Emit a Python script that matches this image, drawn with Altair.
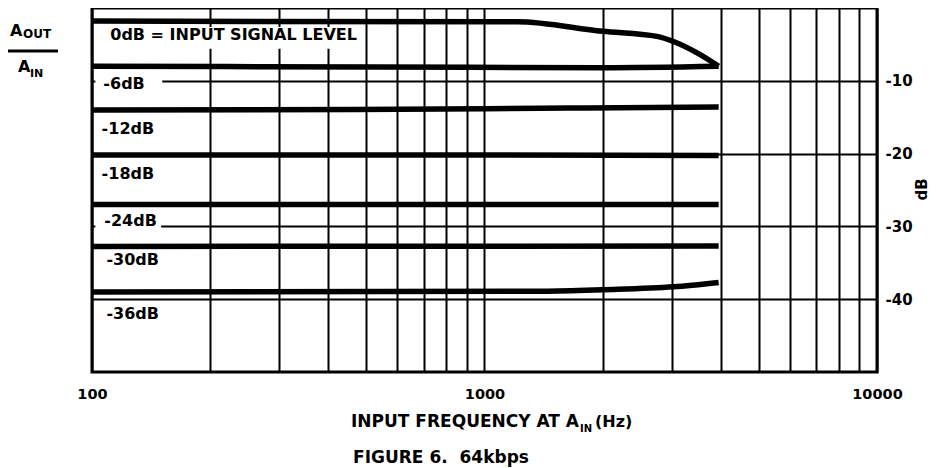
import altair as alt
import pandas as pd

# ---------------- data ----------------
series_names = ["0dB", "-6dB", "-12dB", "-18dB", "-24dB", "-30dB", "-36dB"]

f_0db = [100, 1210, 2000, 2750, 3030, 3490, 3950]
db_0db = [-1.8, -1.9, -3.2, -3.9, -4.6, -6.2, -8.0]
f_6db = [100, 540, 2000, 3950]
db_6db = [-8.0, -8.1, -8.2, -8.0]
f_12db = [100, 470, 1650, 3950]
db_12db = [-14.0, -13.95, -13.75, -13.6]
f_18db = [100, 1000, 3950]
db_18db = [-20.2, -20.2, -20.25]
f_24db = [100, 3950]
db_24db = [-27.0, -27.0]
f_30db = [100, 3950]
db_30db = [-32.75, -32.7]
f_36db = [100, 1410, 2000, 3030, 3950]
db_36db = [-39.0, -38.9, -38.7, -38.3, -37.7]

x_grid_values = [100, 200, 300, 400, 500, 600, 700, 800, 900,
                 1000, 2000, 3000, 4000, 5000, 6000, 7000, 8000, 9000, 10000]
x_label_values = [100, 1000, 10000]
y_tick_values = [-10, -20, -30, -40]

label_text = ["0dB = INPUT SIGNAL LEVEL", "-6dB", "-12dB", "-18dB", "-24dB", "-30dB", "-36dB"]
label_f = [111.3, 106.9, 105.8, 105.8, 107.5, 108.8, 108.8]
label_db = [-4.42, -11.1, -17.25, -23.5, -30.0, -35.35, -42.75]

# white knock-out boxes behind some labels
box_f = [107.5, 102, 102]
box_f2 = [489, 151, 150]
box_db = [-2.6, -9.2, -29.2]
box_db2 = [-5.6, -11.0, -31.0]

# ---------------- tables ----------------
curves = [(f_0db, db_0db), (f_6db, db_6db), (f_12db, db_12db), (f_18db, db_18db),
          (f_24db, db_24db), (f_30db, db_30db), (f_36db, db_36db)]
rows = []
for name, (fs, dbs) in zip(series_names, curves):
    for i, (f, d) in enumerate(zip(fs, dbs)):
        rows.append({"series": name, "order": i, "f": f, "db": d})
df_curves = pd.DataFrame(rows)
df_labels = pd.DataFrame({"label": label_text, "f": label_f, "db": label_db})
df_boxes = pd.DataFrame({"f": box_f, "f2": box_f2, "db": box_db, "db2": box_db2})

FONT = "DejaVu Sans"

xscale = alt.Scale(type="log", domain=[100, 10000], nice=False)
yscale = alt.Scale(domain=[-50, 0], nice=False, zero=False)

xaxis = alt.Axis(
    values=x_grid_values,
    labelExpr="(datum.value == 100 || datum.value == 1000 || datum.value == 10000) ? format(datum.value, 'd') : ''",
    grid=True, gridColor="black", gridWidth=2, gridOpacity=1,
    ticks=False, domain=False, labelOverlap=False, labelFlush=False, labelBound=False,
    labelFont=FONT, labelFontWeight="bold", labelFontSize=14.5, labelColor="black",
    labelBaseline="alphabetic", labelPadding=26, title=None,
)
yaxis = alt.Axis(
    orient="right", values=y_tick_values,
    labelExpr="'-' + toString(abs(datum.value))",
    grid=True, gridColor="black", gridWidth=2, gridOpacity=1,
    ticks=False, domain=False, labelOverlap=False, labelFlush=False,
    labelFont=FONT, labelFontWeight="bold", labelFontSize=15, labelColor="black",
    labelPadding=8, labelBaseline="middle",
    title="dB", titleAngle=270, titleX=44, titleY=181, titleAlign="center",
    titleBaseline="middle", titleFont=FONT, titleFontWeight="bold",
    titleFontSize=15, titleColor="black",
)

X = alt.X("f:Q", scale=xscale, axis=xaxis)
Y = alt.Y("db:Q", scale=yscale, axis=yaxis)

boxes = alt.Chart(df_boxes).mark_rect(color="white", opacity=1).encode(
    x=X, x2="f2:Q", y=Y, y2="db2:Q"
)

lines = alt.Chart(df_curves).mark_line(
    color="black", strokeWidth=5.5, strokeCap="butt", strokeJoin="round", interpolate="monotone"
).encode(x=X, y=Y, detail="series:N", order="order:Q")

labels = alt.Chart(df_labels).mark_text(
    align="left", baseline="alphabetic", font=FONT, fontWeight="bold", fontSize=16, color="black"
).encode(x=X, y=Y, text="label:N")


def txt(s, px, py, size, align="left"):
    return alt.Chart(pd.DataFrame({"t": [s]})).mark_text(
        align=align, baseline="alphabetic", font=FONT, fontWeight="bold",
        fontSize=size, color="black"
    ).encode(x=alt.value(px), y=alt.value(py), text="t:N")


bar = alt.Chart(pd.DataFrame({"k": [0]})).mark_rule(color="black", strokeWidth=3).encode(
    x=alt.value(-86), x2=alt.value(-34), y=alt.value(43)
)

extras = [
    txt("A", -82, 27.7, 16),
    txt("OUT", -69, 29.5, 12),
    bar,
    txt("A", -74, 64.3, 16),
    txt("IN", -62, 68.7, 11),
    txt("INPUT FREQUENCY AT A", 487, 419, 17, align="right"),
    txt("IN", 488, 424, 10),
    txt("(Hz)", 503, 419, 16),
    txt("FIGURE 6.\u00a0 64kbps", 349, 455.3, 17, align="center"),
]

chart = alt.layer(boxes, lines, labels, *extras).properties(
    width=785, height=364,
    autosize=alt.AutoSizeParams(type="none"),
    padding={"left": 84, "top": 0, "right": 53, "bottom": 96},
).configure_view(stroke="black", strokeWidth=3)

chart.save("out.html", embed_options={"renderer": "svg", "actions": False})
